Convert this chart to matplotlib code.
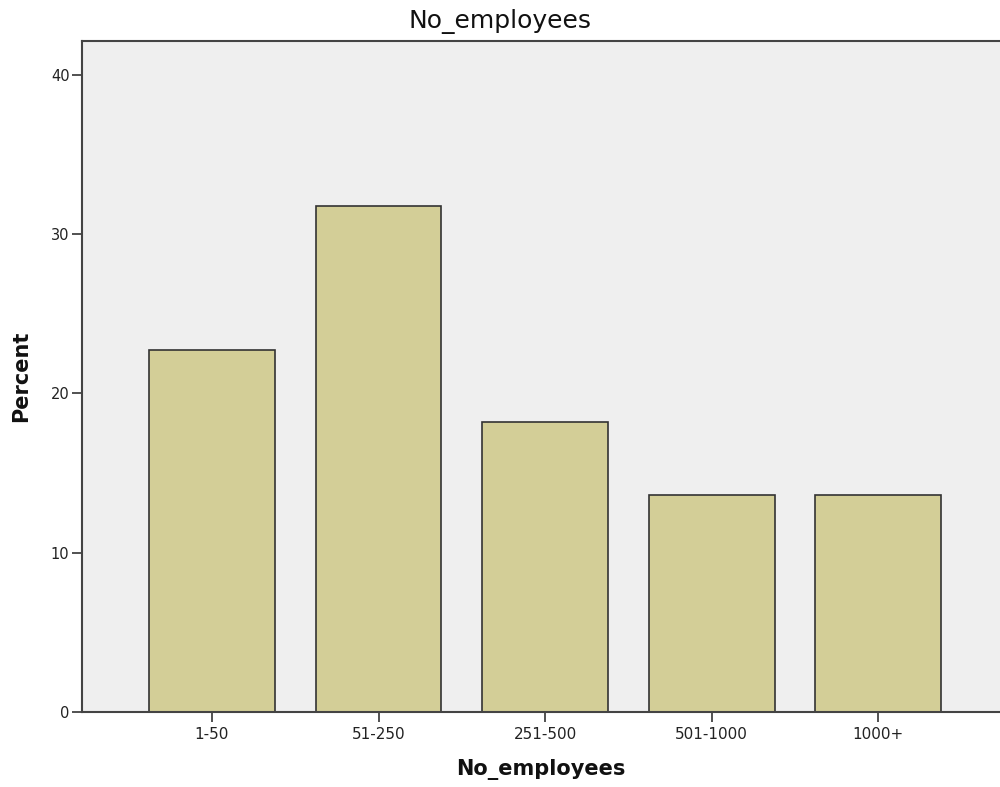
import numpy as np
import matplotlib
matplotlib.use("Agg")
import matplotlib.pyplot as plt

# data
categories = ["1-50", "51-250", "251-500", "501-1000", "1000+"]
percent = [22.7, 31.8, 18.2, 13.6, 13.6]
y_ticks = [0, 10, 20, 30, 40]

plt.rcParams['font.family'] = ['DejaVu Sans']

fig = plt.figure(figsize=(10, 7.87), dpi=100)
ax = fig.add_axes([0.082, 0.0953, 0.918, 0.8526])
ax.set_facecolor('#efefef')

x = np.arange(len(categories))
ax.bar(x, percent, width=0.755, color='#d3ce97', edgecolor='#333333', linewidth=1.2, zorder=2)

ax.set_xlim(-0.78, 4.73)
ax.set_ylim(0, 42.13)
ax.set_xticks(x)
ax.set_xticklabels(categories, fontsize=11, color='#222222')
ax.set_yticks(y_ticks)
ax.set_yticklabels([str(t) for t in y_ticks], fontsize=10.5, color='#222222')
ax.tick_params(axis='both', direction='out', length=7, width=1.2, color='#333333')
ax.tick_params(axis='y', pad=2)
ax.tick_params(axis='x', pad=4)

for side in ['left', 'bottom', 'top']:
    ax.spines[side].set_color('#444444')
    ax.spines[side].set_linewidth(1.5)
ax.spines['right'].set_visible(False)

# title is centred on the whole figure, not on the (cut-off) axes
fig.text(0.5, 0.973, 'No_employees', fontsize=18, ha='center', va='center', color='#111111')
ax.set_xlabel('No_employees', fontsize=15, fontweight='bold', labelpad=12, color='#111111')
ax.set_ylabel('Percent', fontsize=15, fontweight='bold', labelpad=14, color='#111111')

fig.savefig('out.png', dpi=100)
